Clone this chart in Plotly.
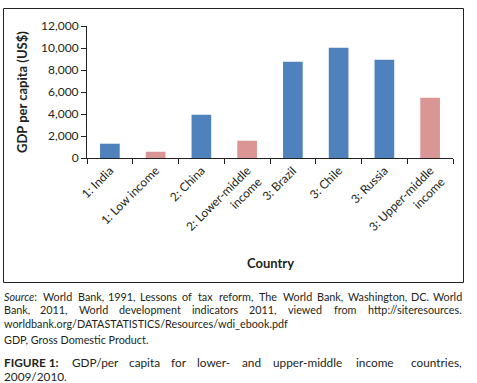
import plotly.graph_objects as go

# ---- data ----
categories = ["1: India", "1: Low income", "2: China", "2: Lower-middle<br>income",
              "3: Brazil", "3: Chile", "3: Russia", "3: Upper-middle<br>income"]
gdp_per_capita = [1300, 570, 3940, 1570, 8750, 10030, 8940, 5480]
group = ["country", "aggregate", "country", "aggregate",
         "country", "country", "country", "aggregate"]
y_ticks = [0, 2000, 4000, 6000, 8000, 10000, 12000]

# ---- layout helpers (pixel -> paper) ----
W, H = 477, 383
L, R, T, B = 87, 24, 26, 225
PW, PH = W - L - R, H - T - B


def px(x):
    return (x - L) / PW


def py(y):
    return (H - B - y) / PH


FONT = "Lato"
TXT = "#231f20"
color_map = {"country": "#4F81BD", "aggregate": "#D99694"}

fig = go.Figure(go.Bar(
    x=categories, y=gdp_per_capita,
    marker=dict(color=[color_map[g] for g in group], line=dict(width=0)),
))

fig.update_layout(
    width=W, height=H,
    margin=dict(l=L, r=R, t=T, b=B, autoexpand=False),
    paper_bgcolor="white", plot_bgcolor="white",
    bargap=0.57, showlegend=False,
    font=dict(family=FONT, color=TXT, size=12),
)
fig.update_xaxes(
    type="category", tickangle=-45, showline=True, linecolor="#222", linewidth=1,
    ticks="outside", tickson="boundaries", ticklen=5, tickcolor="#222",
    showgrid=False, tickfont=dict(size=12, family=FONT, color=TXT),
)
fig.update_yaxes(
    range=[0, 12000], tickvals=y_ticks, tickformat=",", showline=True,
    linecolor="#222", linewidth=1, ticks="outside", ticklen=5, tickcolor="#222",
    showgrid=False, zeroline=False, tickfont=dict(size=12, family=FONT, color=TXT),
)

ann = []
# axis titles
ann.append(dict(x=px(22), y=py(92), text="<b>GDP per capita (US$)</b>", textangle=-90,
                font=dict(size=13)))
ann.append(dict(x=px(270), y=py(263), text="<b>Country</b>", font=dict(size=13)))


def justified(words, y, size):
    for i, (w, xc) in enumerate(words):
        if i == 0:
            ann.append(dict(x=px(3), y=py(y), text=w, xanchor="left", font=dict(size=size)))
        elif i == len(words) - 1:
            ann.append(dict(x=px(463), y=py(y), text=w, xanchor="right", font=dict(size=size)))
        else:
            ann.append(dict(x=px(xc), y=py(y), text=w, xanchor="center", font=dict(size=size)))


SMALL = 10.8
BIG = 11.8
justified([("<i>Source</i>:", 0), ("World", 57.3), ("Bank,", 90.5), ("1991,", 122.2),
           ("Lessons", 158.8), ("of", 187.4), ("tax", 205.6), ("reform,", 236.2), ("The", 268.1),
           ("World", 297.1), ("Bank,", 330.3), ("Washington,", 377.9), ("DC.", 419.5), ("World", 0)],
          296, SMALL)
justified([("Bank,", 0), ("2011,", 53.7), ("World", 93.3), ("development", 150.3),
           ("indicators", 215.4), ("2011,", 263.2), ("viewed", 305), ("from", 345.4),
           ("http://siteresources.", 0)], 309.5, SMALL)
ann.append(dict(x=px(3), y=py(323), text="worldbank.org/DATASTATISTICS/Resources/wdi_ebook.pdf",
                xanchor="left", font=dict(size=SMALL)))
ann.append(dict(x=px(3), y=py(339), text="GDP, Gross Domestic Product.",
                xanchor="left", font=dict(size=SMALL)))
justified([("<b>FIGURE 1:</b>", 0), ("GDP/per", 95), ("capita", 144.6), ("for", 178.5),
           ("lower-", 213.6), ("and", 251), ("upper-middle", 307), ("income", 375),
           ("countries,", 0)], 362.2, BIG)
ann.append(dict(x=px(3), y=py(376.4), text="2009/2010.", xanchor="left", font=dict(size=BIG)))

for a in ann:
    a.update(xref="paper", yref="paper", showarrow=False, yanchor="middle",
             borderpad=0)
    a.setdefault("xanchor", "center")
fig.update_layout(annotations=ann)

# outer chart border
fig.add_shape(type="rect", xref="paper", yref="paper",
              x0=px(3.5), x1=px(463.5), y0=py(282.5), y1=py(8.5),
              line=dict(color="#222", width=1))

fig.write_html("out.html", config={"displayModeBar": False},
               post_script="document.body.style.margin='0';")
